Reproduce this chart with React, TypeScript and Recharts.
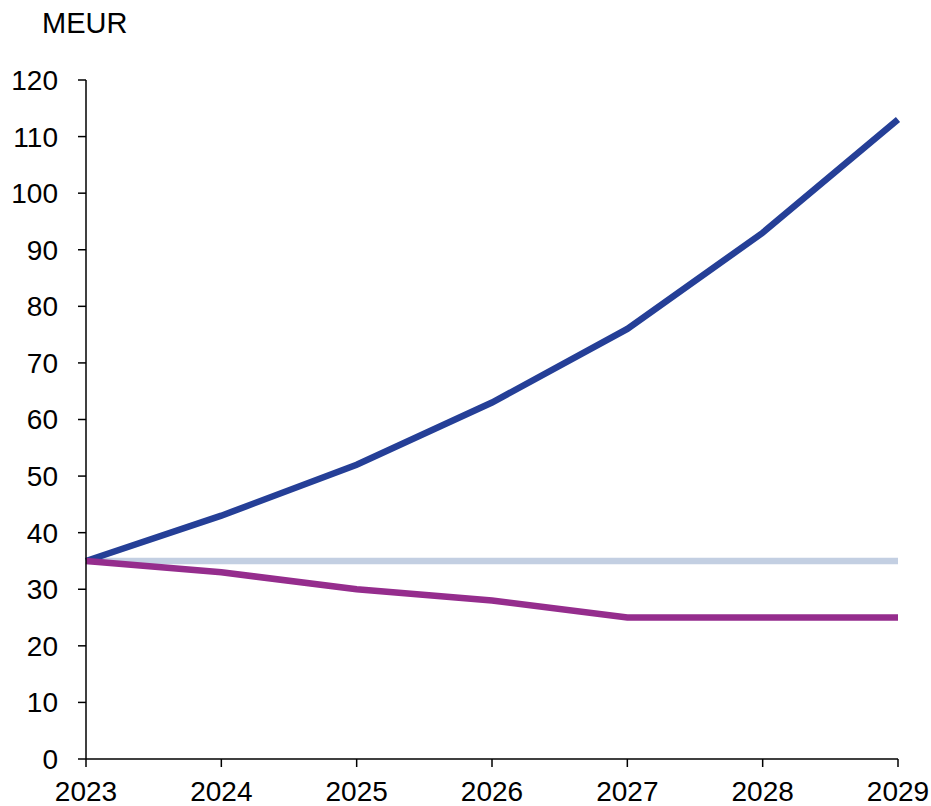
import { LineChart, Line, XAxis, YAxis } from 'recharts';

const years = ['2023', '2024', '2025', '2026', '2027', '2028', '2029'];
const upperPath = [35, 43, 52, 63, 76, 93, 113];
const flatPath = [35, 35, 35, 35, 35, 35, 35];
const lowerPath = [35, 33, 30, 28, 25, 25, 25];
const yTicks = [0, 10, 20, 30, 40, 50, 60, 70, 80, 90, 100, 110, 120];

const FONT = '"Liberation Sans", Arial, sans-serif';

export default function App() {
  const data = years.map((year, i) => ({
    year,
    upper: upperPath[i],
    flat: flatPath[i],
    lower: lowerPath[i],
  }));

  const tickStyle = { fontSize: 28, fontFamily: FONT, fill: '#000' };

  return (
    <div style={{ position: 'absolute', left: 0, top: 0, width: 931, height: 806, background: '#fff' }}>
      {/* unit label above the y axis */}
      <div
        style={{
          position: 'absolute',
          left: 42,
          top: 6,
          fontFamily: FONT,
          fontSize: 29,
          lineHeight: '34px',
          color: '#000',
        }}
      >
        MEUR
      </div>
      <LineChart width={931} height={806} data={data} margin={{ top: 80, right: 33, left: 26, bottom: 0 }}>
        <XAxis
          dataKey="year"
          height={47}
          stroke="#000"
          strokeWidth={1.5}
          tickSize={8}
          tickMargin={14}
          tick={tickStyle}
          interval={0}
        />
        <YAxis
          width={60}
          domain={[0, 120]}
          ticks={yTicks}
          stroke="#000"
          strokeWidth={1.5}
          tickSize={8}
          tickMargin={20}
          tick={tickStyle}
          interval={0}
        />
        <Line dataKey="flat" stroke="#c3cfe2" strokeWidth={6.5} dot={false} isAnimationActive={false} />
        <Line dataKey="upper" stroke="#253f97" strokeWidth={6.5} dot={false} isAnimationActive={false} />
        <Line dataKey="lower" stroke="#952d8d" strokeWidth={6.5} dot={false} isAnimationActive={false} />
      </LineChart>
    </div>
  );
}
